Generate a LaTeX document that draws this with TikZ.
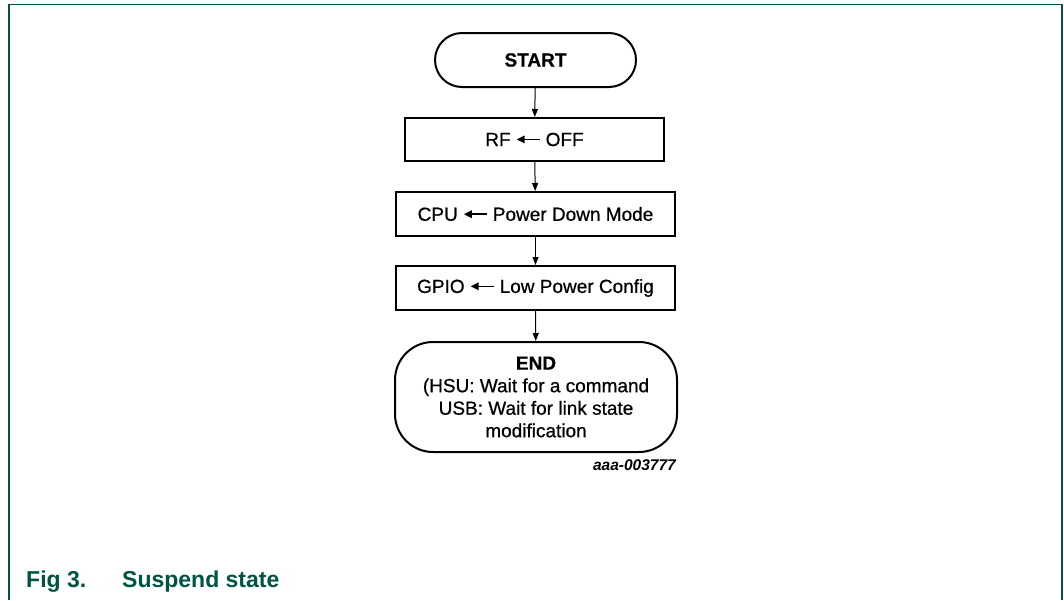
\documentclass[tikz,border=0pt]{standalone}
\usepackage{fontspec}
\setmainfont{Liberation Sans}
\newfontfamily\heavyfont{Liberation Sans}[FakeBold=0.7]
\newfontfamily\heavyboldfont{Liberation Sans Bold}[FakeBold=0.5]
\usetikzlibrary{arrows.meta,shapes.misc}
\definecolor{nxpgreen}{RGB}{0,84,68}
\newcommand\larr{\tikz[baseline=0pt]\draw[line width=1.5pt,{Triangle[length=8pt,width=7.5pt]}-] (0pt,6.6pt) -- (23pt,6.6pt);}
\tikzset{
  stepbox/.style={draw=black, line width=2pt, minimum height=43pt, font=\fontsize{19}{21}\heavyfont, inner sep=0pt},
  termbox/.style={draw=black, line width=2pt, rounded rectangle, font=\fontsize{19}{21}\heavyboldfont, inner sep=0pt},
  flow/.style={draw=black, line width=1pt, -{Triangle[length=8pt,width=6pt]}},
}
\begin{document}
\begin{tikzpicture}[x=1pt,y=-1pt]
\useasboundingbox (0,0) rectangle (1064,600);
\draw[nxpgreen, line width=1.4pt] (9,600) -- (9,4.3) -- (1062,4.3) -- (1062,600);
\node[termbox, minimum width=201pt, minimum height=54pt] (start) at (535.5,60) {START};
\node[stepbox, minimum width=259pt] (rf) at (534.5,139.5) {RF \larr\ OFF};
\node[stepbox, minimum width=279pt, minimum height=44pt] (cpu) at (535.5,214) {CPU \larr\ Power Down Mode};
\node[stepbox, minimum width=279pt, minimum height=44pt] (gpio) at (535.5,288) {GPIO \larr\ Low Power Config};
\node[draw=black, line width=2pt, rounded corners=38pt, minimum width=282pt, minimum height=110pt, inner sep=0pt, align=center, font=\fontsize{19}{22.5}\heavyfont] (end) at (536,397)
  {{\heavyboldfont END}\\(HSU: Wait for a command\\USB: Wait for link state\\modification};
\node[anchor=base east, font=\fontsize{15.5}{18}\selectfont\bfseries\itshape, inner sep=0pt] (id) at (676,470) {aaa-003777};
\draw[flow] (start) -- (rf);
\draw[flow] (rf) -- (cpu);
\draw[flow] (cpu) -- (gpio);
\draw[flow] (gpio) -- (end);
\node[anchor=base west, text=nxpgreen, font=\fontsize{23}{26}\selectfont\bfseries, inner sep=0pt] (figno) at (26,587) {Fig 3.};
\node[anchor=base west, text=nxpgreen, font=\fontsize{23}{26}\selectfont\bfseries, inner sep=0pt] (caption) at (122,587) {Suspend state};
\end{tikzpicture}
\end{document}
